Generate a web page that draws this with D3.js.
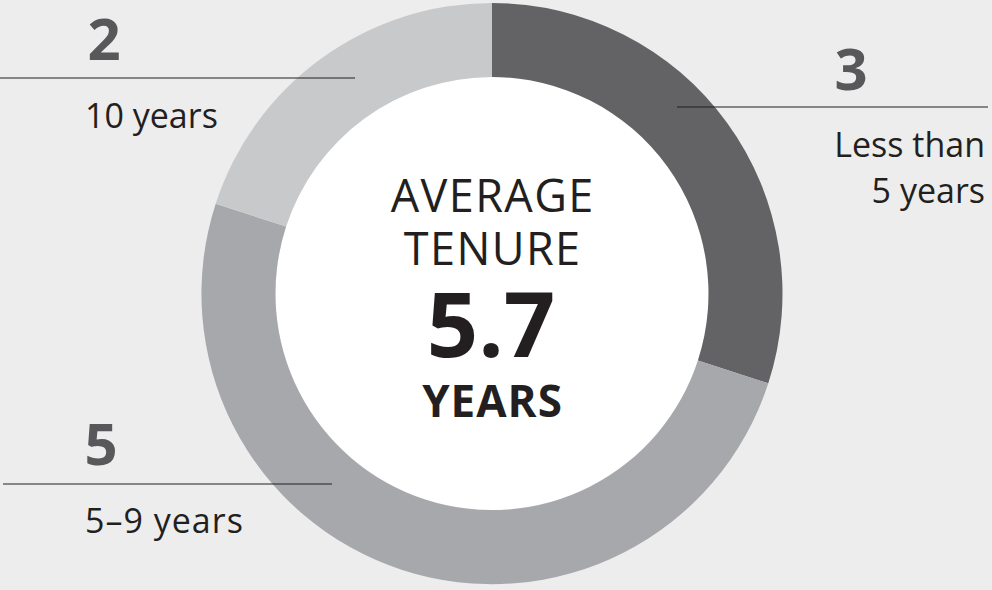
<!DOCTYPE html>
<html>
<head>
<meta charset="utf-8">
<script src="https://cdn.jsdelivr.net/npm/d3@7"></script>
<style>
html,body{margin:0;padding:0;background:#ededed;}
svg{display:block;}
</style>
</head>
<body>
<svg id="chart" width="992" height="590"></svg>
<script>
const categories = ["Less than 5 years", "5–9 years", "10 years"];
const values = [3, 5, 2];
const labelLines = [["Less than", "5 years"], ["5–9 years"], ["10 years"]];
const colors = ["#636365", "#a7a8ab", "#c8c9cb"];
const centerTitle = ["AVERAGE", "TENURE"];
const averageValue = "5.7";
const averageUnit = "YEARS";

const W = 992, H = 590;
const cx = 492, cy = 293.5, R = 290.5, r = 216.5;
const svg = d3.select("#chart");
svg.append("rect").attr("width", W).attr("height", H).attr("fill", "#ededed");

const data = categories.map((c, i) => ({cat: c, value: values[i], color: colors[i], lines: labelLines[i]}));
const pie = d3.pie().sort(null).value(d => d.value);
const arc = d3.arc().innerRadius(r).outerRadius(R);
const g = svg.append("g").attr("transform", `translate(${cx},${cy})`);
g.append("circle").attr("r", r).attr("fill", "#ffffff");
g.selectAll("path").data(pie(data)).join("path")
  .attr("d", arc).attr("fill", d => d.data.color);

const font = "'Open Sans', 'Noto Sans', sans-serif";
const layouts = [
  {num: {x: 851, y: 90, anchor: "middle"}, line: [677, 988, 107], text: {x: 985, y: 157, anchor: "end"}},
  {num: {x: 101, y: 465, anchor: "middle"}, line: [3, 332, 484], text: {x: 85, y: 533, anchor: "start"}},
  {num: {x: 104, y: 60, anchor: "middle"}, line: [0, 355, 78], text: {x: 85, y: 128, anchor: "start"}}
];
data.forEach((d, i) => {
  const L = layouts[i];
  svg.append("line").attr("x1", L.line[0]).attr("x2", L.line[1])
    .attr("y1", L.line[2]).attr("y2", L.line[2])
    .attr("stroke", "#231f20").attr("stroke-width", 1.2);
  svg.append("text").attr("x", L.num.x).attr("y", L.num.y)
    .attr("text-anchor", L.num.anchor)
    .attr("font-family", font).attr("font-weight", 700).attr("font-size", 58)
    .attr("fill", "#58585a").text(d.value);
  d.lines.forEach((t, j) => {
    svg.append("text").attr("x", L.text.x).attr("y", L.text.y + j * 46)
      .attr("text-anchor", L.text.anchor)
      .attr("font-family", font).attr("font-weight", 400).attr("font-size", 34)
      .attr("letter-spacing", t.includes("–") ? 1 : 0)
      .attr("fill", "#231f20").text(t);
  });
});

centerTitle.forEach((t, j) => {
  svg.append("text").attr("x", cx + 0.7).attr("y", 212 + j * 53)
    .attr("text-anchor", "middle").attr("font-family", font)
    .attr("letter-spacing", 1.4)
    .attr("font-weight", 400).attr("font-size", 45).attr("fill", "#231f20").text(t);
});
svg.append("text").attr("x", cx - 1).attr("y", 357).attr("text-anchor", "middle")
  .attr("font-family", font).attr("font-weight", 700).attr("font-size", 90)
  .attr("fill", "#231f20").text(averageValue);
svg.append("text").attr("x", cx + 0.5).attr("y", 417).attr("text-anchor", "middle")
  .attr("font-family", font).attr("font-weight", 700).attr("font-size", 44)
  .attr("letter-spacing", 1)
  .attr("fill", "#231f20").text(averageUnit);
</script>
</body>
</html>
